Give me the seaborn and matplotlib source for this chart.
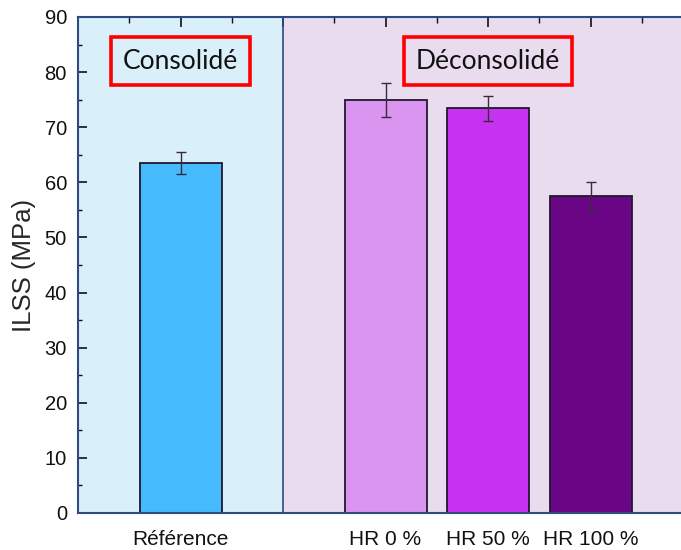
import numpy as np
import matplotlib
matplotlib.use("Agg")
import matplotlib.pyplot as plt
import seaborn as sns
from matplotlib.ticker import MultipleLocator

# data
categories = ["Référence", " ", "HR 0 %", "HR 50 %", "HR 100 %"]
samples = ["Référence", "HR 0 %", "HR 50 %", "HR 100 %"]
ilss = [63.5, 75.0, 73.4, 57.5]
ilss_err = [2.0, 3.1, 2.3, 2.65]
bar_colors = ["#45bbfd", "#da95f0", "#c633f0", "#6a0586"]

group_labels = ["Consolidé", "Déconsolidé"]
group_label_x = ["Référence", "HR 50 %"]

sns.set_style("ticks")
plt.rcParams["font.family"] = ["Liberation Sans", "DejaVu Sans"]

spine_col = "#2e4a7f"

fig = plt.figure(figsize=(6.81, 5.50), dpi=100)
ax = fig.add_axes([78 / 681, 37 / 550, 615 / 681, 496 / 550])

sns.barplot(x=samples, y=ilss, order=categories, hue=samples,
            palette=dict(zip(samples, bar_colors)), saturation=1, width=0.8,
            edgecolor="#22182e", linewidth=1.3, legend=False, ax=ax, zorder=2)

pos = [categories.index(s) for s in samples]
ax.errorbar(pos, ilss, yerr=ilss_err, fmt="none", ecolor="#3a2a40",
            elinewidth=1.0, capsize=3.6, capthick=1.0, zorder=3)

# background zones
ax.axvspan(-1, 1, color="#d9eff9", zorder=0, lw=0)
ax.axvspan(1, 5, color="#e8dcee", zorder=0, lw=0)
ax.axvline(1, color=spine_col, lw=1.2, zorder=1)

ax.set_xlim(-1, 5)
ax.set_ylim(0, 90)
ax.yaxis.set_major_locator(MultipleLocator(10))
ax.yaxis.set_minor_locator(MultipleLocator(5))
ax.set_xticks(range(len(categories)))
ax.set_xticklabels(categories)
ax.set_xticks(np.arange(-0.5, 5, 1.0), minor=True)

ax.tick_params(axis="x", which="both", bottom=False, top=True, direction="in",
               labelsize=15, pad=12, colors="#111111")
ax.tick_params(axis="x", which="major", length=7, width=1.2)
ax.tick_params(axis="x", which="minor", length=4, width=1.0)
ax.tick_params(axis="y", which="both", direction="in", labelsize=14.5,
               colors="#111111", pad=8)
ax.tick_params(axis="y", which="major", length=6.5, width=1.2)
ax.tick_params(axis="y", which="minor", length=3, width=1.0)

for side in ["left", "bottom", "top", "right"]:
    ax.spines[side].set_color(spine_col)
    ax.spines[side].set_linewidth(1.5)
    ax.spines[side].set_zorder(4)

ax.set_xlabel("")
ax.set_ylabel("ILSS (MPa)", fontsize=18.5, labelpad=6)

for lab, xc in zip(group_labels, group_label_x):
    ax.text(categories.index(xc), 82, lab, ha="center", va="center",
            fontsize=19, family=["Lato", "DejaVu Sans"], color="#111111",
            bbox=dict(boxstyle="square,pad=0.45", facecolor="none",
                      edgecolor="#ff0000", linewidth=2.6), zorder=5)

fig.savefig("out.png", dpi=100)
plt.close(fig)
